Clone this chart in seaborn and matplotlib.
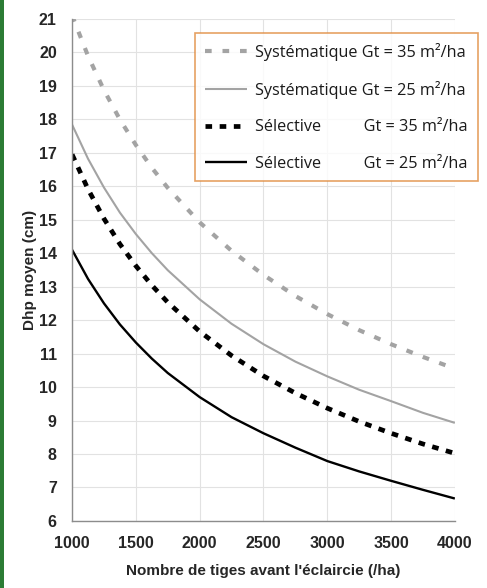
import numpy as np
import pandas as pd
import matplotlib
matplotlib.use("Agg")
import matplotlib.pyplot as plt
import seaborn as sns
from matplotlib.patches import Rectangle
from matplotlib.ticker import MultipleLocator

# values
tiges = [1000, 1125, 1250, 1375, 1500, 1625, 1750, 2000, 2250, 2500, 2750, 3000, 3250, 3500, 3750, 4000]
syst_35 = [21.1, 19.89, 18.87, 17.99, 17.23, 16.55, 15.95, 14.92, 14.07, 13.35, 12.72, 12.18, 11.70, 11.28, 10.90, 10.55]
syst_25 = [17.84, 16.82, 15.96, 15.21, 14.57, 14.0, 13.49, 12.62, 11.89, 11.28, 10.76, 10.32, 9.92, 9.58, 9.23, 8.93]
selec_35 = [16.95, 15.91, 15.03, 14.27, 13.62, 13.04, 12.53, 11.66, 10.94, 10.33, 9.82, 9.37, 8.97, 8.62, 8.30, 8.02]
selec_25 = [14.1, 13.23, 12.5, 11.87, 11.33, 10.85, 10.42, 9.70, 9.10, 8.62, 8.19, 7.79, 7.48, 7.20, 6.93, 6.67]

labels = [
    "Systématique Gt = 35 m²/ha",
    "Systématique Gt = 25 m²/ha",
    "Sélective          Gt = 35 m²/ha",
    "Sélective          Gt = 25 m²/ha",
]

rows = []
for lab, vals in zip(labels, [syst_35, syst_25, selec_35, selec_25]):
    for x, v in zip(tiges, vals):
        rows.append({"tiges": x, "dhp": v, "serie": lab})
df = pd.DataFrame(rows)

sns.set_style("white")
plt.rcParams['font.family'] = ['Liberation Sans', 'DejaVu Sans']

fig = plt.figure(figsize=(4.87, 5.88), dpi=100)
ax = fig.add_axes([0.148, 0.114, 0.786, 0.854])

palette = {labels[0]: "#a3a3a3", labels[1]: "#a3a3a3", labels[2]: "#000000", labels[3]: "#000000"}
sns.lineplot(data=df, x="tiges", y="dhp", hue="serie", palette=palette, ax=ax, legend=False)

styles = [((0, (1.6, 2.6)), 3.0), ("-", 1.5), ((0, (1.4, 1.6)), 3.4), ("-", 1.7)]
for line, (ls, lw) in zip(ax.get_lines(), styles):
    line.set_linestyle(ls)
    line.set_linewidth(lw)
    line.set_solid_capstyle("butt")
    line.set_dash_capstyle("butt")

ax.set_xlim(1000, 4000)
ax.set_ylim(6, 21)
ax.xaxis.set_major_locator(MultipleLocator(500))
ax.xaxis.set_minor_locator(MultipleLocator(100))
ax.yaxis.set_major_locator(MultipleLocator(1))
ax.yaxis.set_minor_locator(MultipleLocator(0.5))
ax.grid(True, which="major", color="#e2e2e2", linewidth=0.8)
ax.set_axisbelow(True)

for s in ["top", "right"]:
    ax.spines[s].set_visible(False)
for s in ["left", "bottom"]:
    ax.spines[s].set_color("#8c8c8c")
    ax.spines[s].set_linewidth(1.0)

ax.tick_params(which="both", direction="out", length=5, width=0.8, color="#8c8c8c")
ax.tick_params(axis="both", which="major", labelsize=11.5, pad=6)
for t in ax.get_xticklabels() + ax.get_yticklabels():
    t.set_fontweight("bold")

ax.set_xlabel("Nombre de tiges avant l'éclaircie (/ha)", fontsize=11, fontweight="bold", labelpad=9)
ax.set_ylabel("Dhp moyen (cm)", fontsize=11, fontweight="bold", labelpad=1.5)

handles = ax.get_lines()
leg = ax.legend(handles, labels, loc="upper left", bbox_to_anchor=(195 / 487, 1 - 33 / 588),
                bbox_transform=fig.transFigure,
                frameon=True, fancybox=False, handlelength=2.6, handletextpad=0.5,
                labelspacing=1.25, borderpad=0.6, borderaxespad=0,
                prop={"family": "Open Sans", "size": 11.7})
leg.get_frame().set_edgecolor("#e08a3c")
leg.get_frame().set_linewidth(1.2)
for t in leg.get_texts():
    t.set_color("#1a1a1a")

fig.patches.append(Rectangle((0, 0), 4 / 487, 1, transform=fig.transFigure,
                             facecolor="#2c7c35", edgecolor="none"))

fig.savefig("out.png", dpi=100)
